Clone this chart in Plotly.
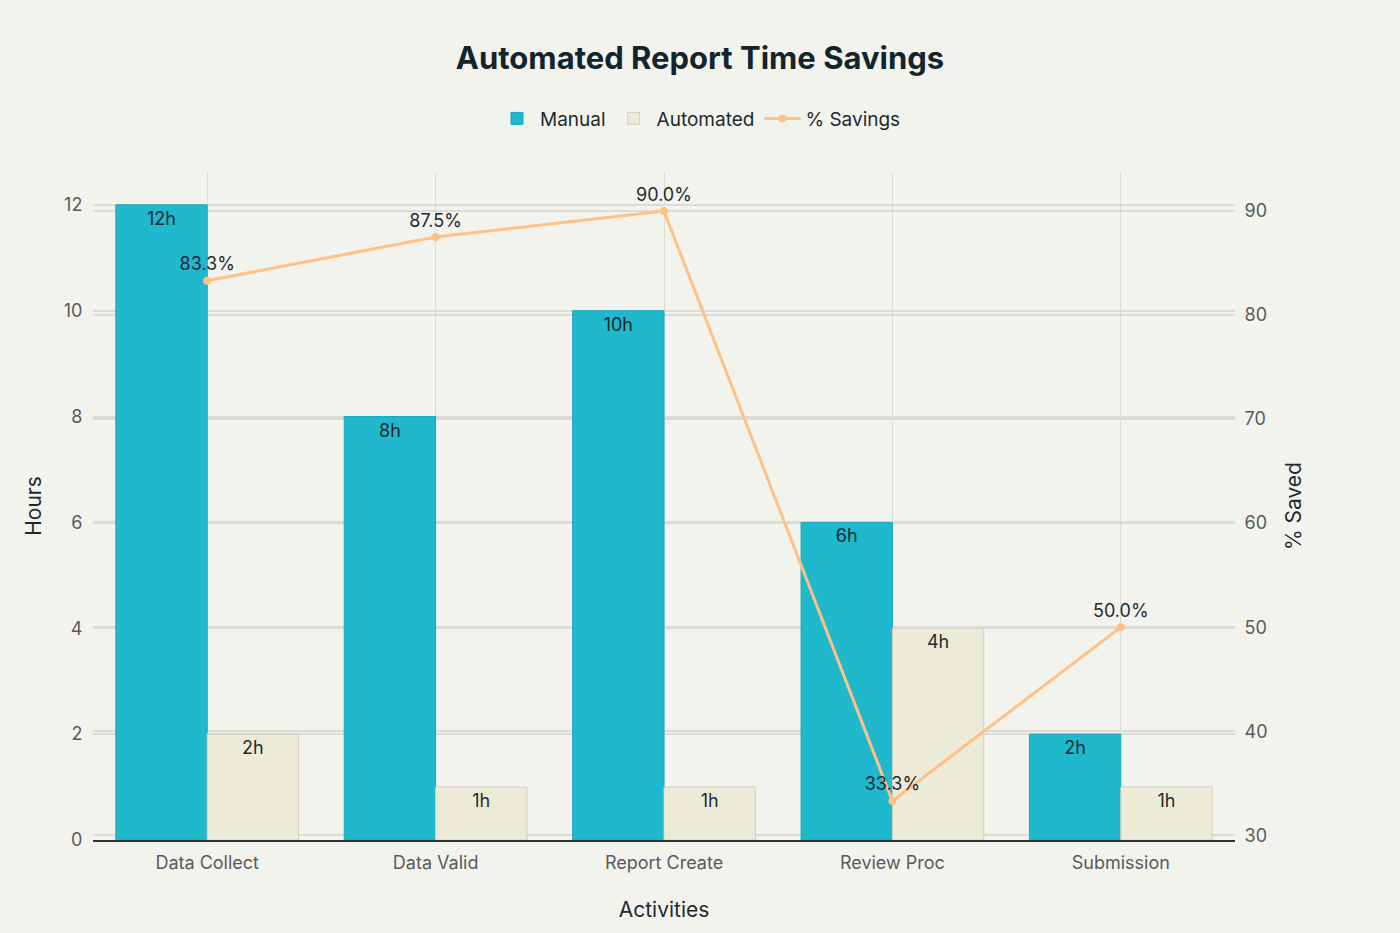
import plotly.graph_objects as go

categories = ["Data Collect", "Data Valid", "Report Create", "Review Proc", "Submission"]
manual_hours = [12, 8, 10, 6, 2]
automated_hours = [2, 1, 1, 4, 1]
pct_savings = [83.3, 87.5, 90.0, 33.3, 50.0]

FONT = "Inter, Roboto, sans-serif"
TXT = "#1E2A30"
BG = "#F3F3EE"
GRID = "#DCDCD6"
TICK = "#5A5A5A"

fig = go.Figure()
fig.add_trace(go.Bar(
    x=categories, y=manual_hours, name="Manual",
    marker=dict(color="#1FB8CD", line=dict(color="#1AA9BD", width=1)),
    texttemplate="%{y}h", textposition="inside", insidetextanchor="end",
    textfont=dict(color=TXT, size=18, family=FONT),
))
fig.add_trace(go.Bar(
    x=categories, y=automated_hours, name="Automated",
    marker=dict(color="#ECEBD7", line=dict(color="#D2D1BE", width=1)),
    texttemplate="%{y}h", textposition="inside", insidetextanchor="end",
    textfont=dict(color=TXT, size=18, family=FONT),
))
fig.add_trace(go.Scatter(
    x=categories, y=pct_savings, name="% Savings", yaxis="y2",
    mode="lines+markers+text",
    line=dict(color="#FFC185", width=3),
    marker=dict(color="#FFC185", size=8),
    texttemplate="%{y:.1f}%", textposition="top center",
    textfont=dict(color=TXT, size=18, family=FONT),
))

fig.update_layout(
    width=1400, height=933,
    paper_bgcolor=BG, plot_bgcolor=BG,
    font=dict(family=FONT, color=TXT, size=18),
    title=dict(text="<b>Automated Report Time Savings</b>", x=0.5, xanchor="center",
               y=0.938, yanchor="middle", font=dict(size=31, color="#13252C", family=FONT)),
    legend=dict(orientation="h", x=0.5315, xanchor="center",
                y=1.08, yanchor="middle", itemwidth=36,
                font=dict(size=19, color=TXT), bgcolor="rgba(0,0,0,0)"),
    barmode="group", bargap=0.2, bargroupgap=0,
    margin=dict(l=93, r=165, t=172, b=93, autoexpand=False),
    xaxis=dict(title=dict(text="Activities", font=dict(size=21), standoff=30),
               showgrid=True, gridcolor=GRID, showline=True, linecolor="#333333",
               linewidth=1.5, tickfont=dict(size=18, color=TICK), ticks="outside",
               ticklen=6, tickcolor="rgba(0,0,0,0)", tickangle=0),
    yaxis=dict(title=dict(text="Hours", font=dict(size=21), standoff=16),
               range=[0, 12.62], dtick=2, showgrid=True, gridcolor=GRID, gridwidth=1.5,
               zeroline=False, tickfont=dict(size=18, color=TICK), ticks="outside",
               ticklen=6, tickcolor="rgba(0,0,0,0)"),
    yaxis2=dict(title=dict(text="% Saved", font=dict(size=21), standoff=19),
                overlaying="y", side="right", range=[29.55, 93.75], dtick=10,
                showgrid=True, gridcolor=GRID, gridwidth=1.5, zeroline=False,
                tickfont=dict(size=18, color=TICK), ticks="outside",
                ticklen=5, tickcolor="rgba(0,0,0,0)"),
)

fig.write_html("out.html", config={"displayModeBar": False},
               post_script="document.body.style.margin='0';")
